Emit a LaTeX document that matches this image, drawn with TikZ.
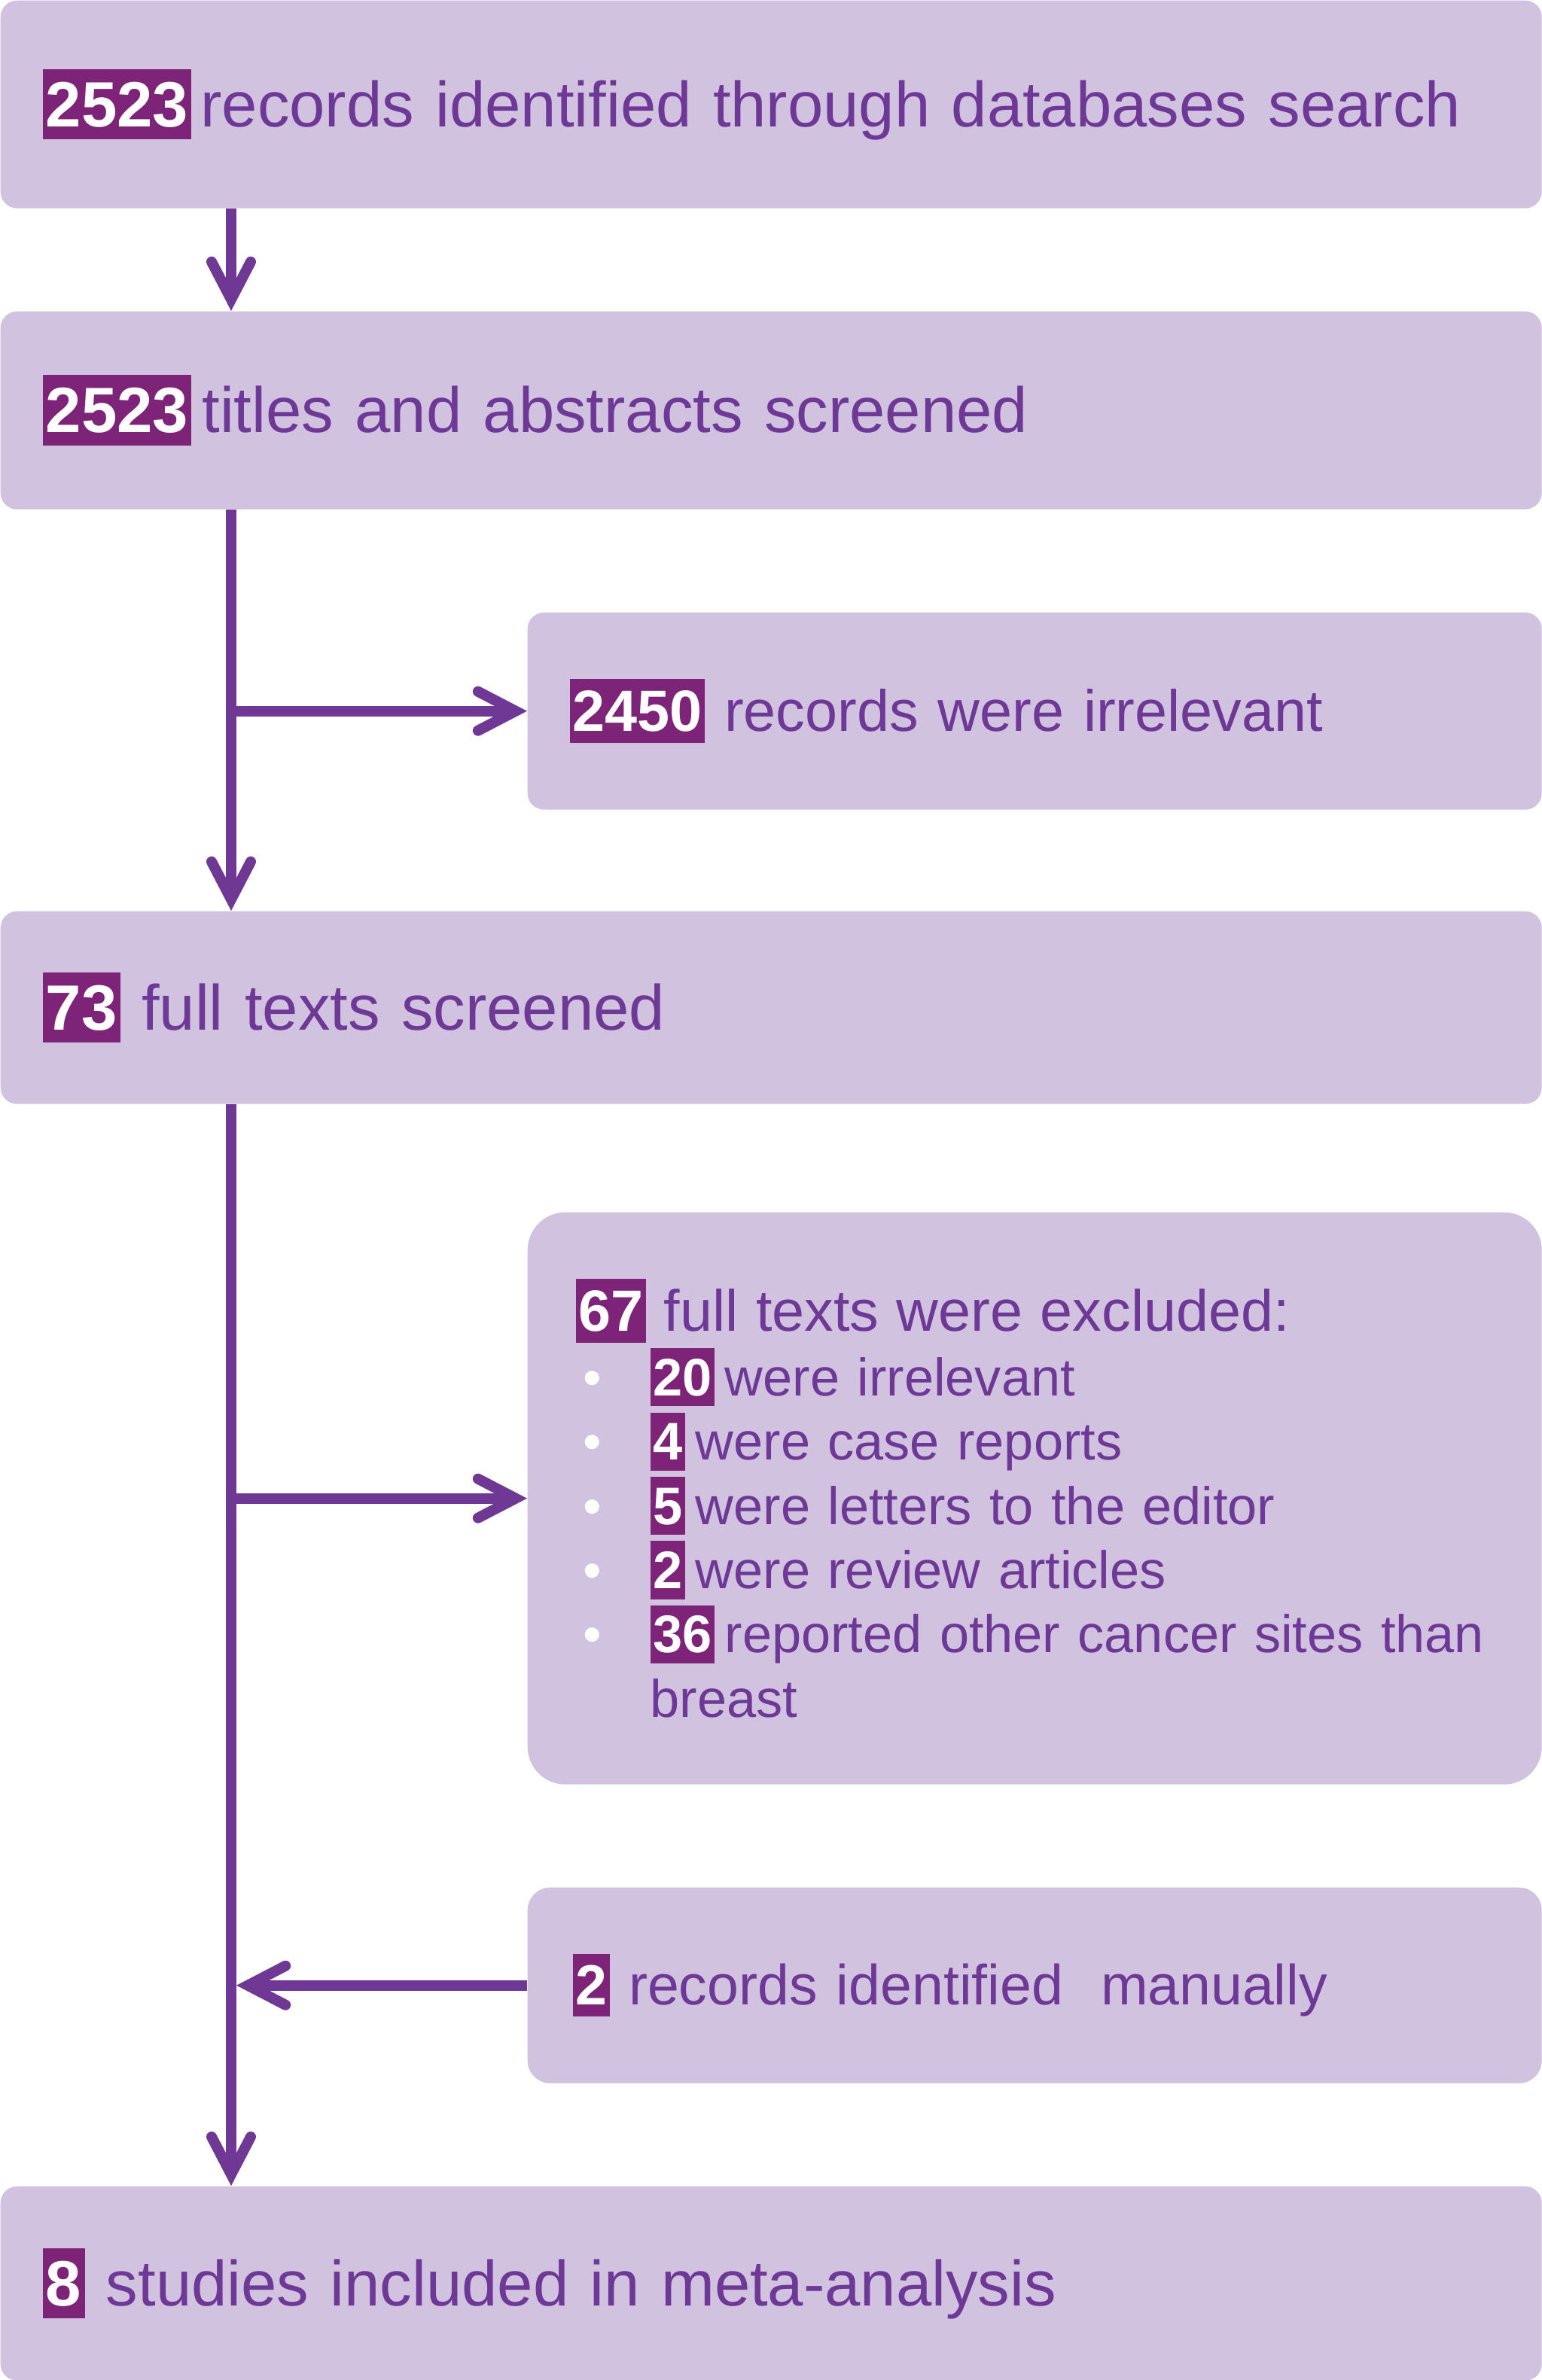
\documentclass[tikz,border=0pt]{standalone}
\usepackage{fontspec}
\setmainfont{Liberation Sans}
\usetikzlibrary{arrows.meta}

\definecolor{boxfill}{HTML}{D1C2E0}
\definecolor{numfill}{HTML}{7D2479}
\definecolor{txtc}{HTML}{6E3996}
\definecolor{linec}{HTML}{6F3894}

\newcommand{\cnt}[1]{{\setlength{\fboxsep}{0pt}\colorbox{numfill}{\rule[-0.2em]{0pt}{1.1em}\hspace{0.05em}\textcolor{white}{\bfseries #1}\hspace{0.05em}}}}
\newcommand{\itm}{\makebox[0.99cm][l]{\hspace{0.1cm}\textcolor{white}{\textbullet}}}

\begin{document}
\begin{tikzpicture}

\tikzset{box/.style = {rectangle, fill=boxfill, rounded corners=0.22cm, anchor=north west, inner ysep=0pt, text=txtc, align=left}}
\tikzset{wide/.style = {box, inner xsep=0.56cm, minimum width=20.47cm, text width=19.35cm}}
\tikzset{side/.style = {box, inner xsep=0.56cm, minimum width=13.47cm, text width=12.35cm}}
\tikzset{big/.style = {font=\fontsize{24.2}{29}\selectfont}}
\tikzset{mid/.style = {font=\fontsize{22}{26}\selectfont}}
\tikzset{edge/.style = {->, > = {Straight Barb[length=5mm, width=5.2mm, line cap=round]}, draw=linec, line width=1.4mm}}

\useasboundingbox (0,0) rectangle (20.47,-31.62);

%boxes
\node[wide, big, minimum height=2.76cm] (1) at (0,0) {\cnt{2523}\hspace{0.12cm}records identified through databases search};
\node[wide, big, minimum height=2.63cm] (2) at (0,-4.13) {\cnt{2523}\hspace{0.14cm}titles and abstracts screened};
\node[side, mid, minimum height=2.62cm] (3) at (7.00,-8.13) {\cnt{2450} records were irrelevant};
\node[wide, big, minimum height=2.56cm] (4) at (0,-12.10) {\cnt{73} full texts screened};
\node[side, rounded corners=0.5cm, inner xsep=0.64cm, text width=12.19cm, minimum height=7.60cm,
      font=\fontsize{20}{24.3}\selectfont] (5) at (7.00,-16.10)
  {{\fontsize{22}{24.3}\selectfont\cnt{67} full texts were excluded:}\\
   \itm\cnt{20}\hspace{0.14cm}were irrelevant\\
   \itm\cnt{4}\hspace{0.14cm}were case reports\\
   \itm\cnt{5}\hspace{0.14cm}were letters to the editor\\
   \itm\cnt{2}\hspace{0.14cm}were review articles\\
   \itm\mbox{\cnt{36}\hspace{0.14cm}reported other cancer sites than}\\
   \hspace*{0.99cm}breast};
\node[side, rounded corners=0.3cm, inner xsep=0.60cm, text width=12.27cm, minimum height=2.60cm,
      font=\fontsize{21.4}{26}\selectfont] (6) at (7.00,-25.07) {\cnt{2} records identified~ manually};
\node[wide, big, minimum height=2.58cm] (7) at (0,-29.04) {\cnt{8} studies included in meta-analysis};

%spine
\coordinate (s) at (3.07,0);
\draw[edge] (s |- 1.south) -- (s |- 2.north);
\draw[edge] (s |- 2.south) -- (s |- 4.north);
\draw[edge] (s |- 3.west) -- (3.west);
\draw[edge] (s |- 4.south) -- (s |- 7.north);
\draw[edge] (s |- 5.west) -- (5.west);
\draw[edge, shorten >=0.07cm] (6.west) -- (s |- 6.west);

\end{tikzpicture}
\end{document}
